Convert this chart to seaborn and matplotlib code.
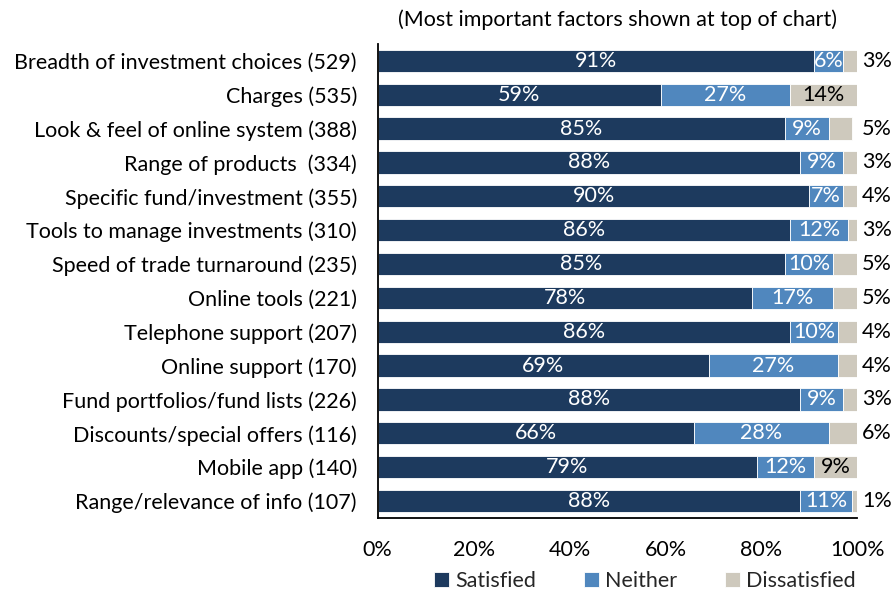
import matplotlib
matplotlib.use("Agg")
import matplotlib.pyplot as plt
import seaborn as sns
import pandas as pd
import numpy as np

factors = [
    "Breadth of investment choices (529)",
    "Charges (535)",
    "Look & feel of online system (388)",
    "Range of products  (334)",
    "Specific fund/investment (355)",
    "Tools to manage investments (310)",
    "Speed of trade turnaround (235)",
    "Online tools (221)",
    "Telephone support (207)",
    "Online support (170)",
    "Fund portfolios/fund lists (226)",
    "Discounts/special offers (116)",
    "Mobile app (140)",
    "Range/relevance of info (107)",
]
satisfied = [91, 59, 85, 88, 90, 86, 85, 78, 86, 69, 88, 66, 79, 88]
neither = [6, 27, 9, 9, 7, 12, 10, 17, 10, 27, 9, 28, 12, 11]
dissatisfied = [3, 14, 5, 3, 4, 3, 5, 5, 4, 4, 3, 6, 9, 1]

series = ["Satisfied", "Neither", "Dissatisfied"]
colors = ["#1d3a5e", "#5087be", "#cec9bd"]

sns.set_theme(style="white")
plt.rcParams["font.family"] = ["Lato", "DejaVu Sans"]
FS = 15.5

df = pd.DataFrame({"factor": factors, "Satisfied": satisfied,
                   "Neither": neither, "Dissatisfied": dissatisfied})

fig = plt.figure(figsize=(8.93, 5.94), dpi=100)
ax = fig.add_axes([0.423, 0.128, 0.537, 0.798])

left = np.zeros(len(factors))
for name, col in zip(series, colors):
    sns.barplot(data=df, y="factor", x=name, left=left, color=col, ax=ax,
                orient="h", width=0.66, linewidth=0.6, edgecolor="white",
                saturation=1, label=name)
    vals = df[name].to_numpy()
    for i, v in enumerate(vals):
        txt = f"{v}%"
        if name == "Dissatisfied":
            if v >= 8:
                ax.text(left[i] + v / 2, i, txt, ha="center", va="center",
                        color="black", fontsize=FS)
            else:
                ax.text(101.0, i, txt, ha="left", va="center",
                        color="black", fontsize=FS, clip_on=False)
        else:
            ax.text(left[i] + v / 2, i, txt, ha="center", va="center",
                    color="white", fontsize=FS)
    left = left + vals

handles, labels = ax.get_legend_handles_labels()
if ax.legend_ is not None:
    ax.legend_.remove()

ax.set_xlim(0, 100)
ax.set_ylim(len(factors) - 0.5, -0.5)
ax.set_xticks([0, 20, 40, 60, 80, 100])
ax.set_xticklabels([f"{t}%" for t in [0, 20, 40, 60, 80, 100]], fontsize=FS)
ax.tick_params(axis="y", labelsize=FS, length=0, pad=15)
ax.tick_params(axis="x", length=0, pad=16)
ax.set_xlabel("")
ax.set_ylabel("")
for s in ["top", "right"]:
    ax.spines[s].set_visible(False)
for s in ["left", "bottom"]:
    ax.spines[s].set_color("black")
    ax.spines[s].set_linewidth(1.3)
for lbl in ax.get_yticklabels() + ax.get_xticklabels():
    lbl.set_color("black")

ax.set_title("(Most important factors shown at top of chart)", fontsize=FS,
             color="black", pad=13)

fig.legend(handles, labels, loc="lower center",
           bbox_to_anchor=(0.722, -0.028), ncol=3, frameon=False,
           fontsize=FS, handlelength=0.7, handleheight=0.7,
           handletextpad=0.3, columnspacing=2.2)

fig.savefig("out.png", dpi=100)
